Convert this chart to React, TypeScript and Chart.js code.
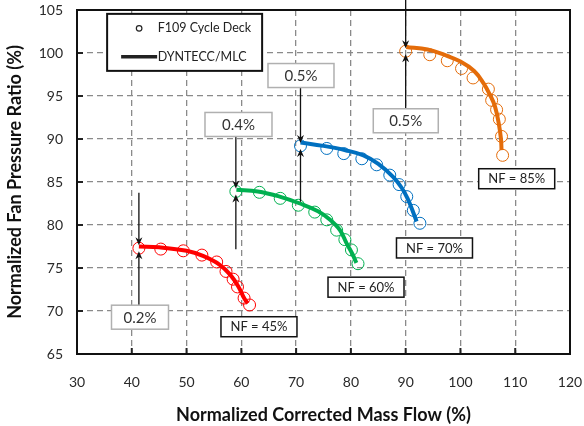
import React, { useEffect, useRef } from "react";
import { Chart, registerables } from "chart.js";

Chart.register(...registerables);

// Axis ranges and tick steps
const xTicks = [30, 40, 50, 60, 70, 80, 90, 100, 110, 120];
const yTicks = [65, 70, 75, 80, 85, 90, 95, 100, 105];

// F109 cycle deck points (circles)
const deck45X = [41.3, 45.3, 49.4, 52.8, 55.5, 57.2, 58.5, 59.3, 60.5, 61.5];
const deck45Y = [77.3, 77.2, 77.0, 76.5, 75.7, 74.6, 73.7, 72.8, 71.5, 70.7];
const deck60X = [59.0, 63.3, 67.1, 70.4, 73.4, 75.6, 77.4, 78.9, 80.1, 81.3];
const deck60Y = [83.9, 83.8, 83.1, 82.3, 81.5, 80.6, 79.4, 78.3, 77.1, 75.5];
const deck70X = [70.8, 75.6, 78.7, 82.0, 84.7, 87.1, 88.8, 90.2, 91.4, 92.6];
const deck70Y = [89.2, 88.9, 88.3, 87.7, 87.0, 85.8, 84.7, 83.3, 81.7, 80.2];
const deck85X = [90.0, 94.4, 97.6, 100.2, 102.3, 105.1, 105.7, 106.6, 107.1, 107.5, 107.7];
const deck85Y = [100.2, 99.8, 99.1, 98.2, 97.1, 95.8, 94.5, 93.4, 92.3, 90.3, 88.1];

// DYNTECC/MLC characteristics (thick lines)
const mlc45X = [41.3, 45.0, 50.0, 53.0, 56.0, 58.0, 59.5, 60.5, 61.2];
const mlc45Y = [77.5, 77.4, 77.0, 76.4, 75.4, 74.2, 72.8, 71.5, 70.9];
const mlc60X = [59.1, 63.0, 67.0, 70.7, 74.0, 76.2, 78.0, 79.2, 80.3, 81.0];
const mlc60Y = [84.1, 83.9, 83.3, 82.5, 81.6, 80.6, 79.4, 77.9, 76.6, 75.6];
const mlc70X = [70.8, 75.0, 79.0, 82.3, 85.0, 87.7, 89.3, 90.4, 91.3, 92.0];
const mlc70Y = [89.6, 89.2, 88.7, 88.1, 87.1, 85.6, 84.3, 83.0, 81.6, 80.4];
const mlc85X = [90.1, 94.0, 97.0, 100.0, 102.5, 104.2, 105.5, 106.3, 107.0, 107.4, 107.5];
const mlc85Y = [100.7, 100.4, 99.8, 99.0, 97.9, 96.5, 95.0, 93.8, 91.8, 90.0, 88.7];

const speedLabels = ["NF = 45%", "NF = 60%", "NF = 70%", "NF = 85%"];
const speedColors = ["#ff0000", "#00b050", "#0070c0", "#e46c0a"];

// Difference callouts at the stall point of each speed line
const diffLabels = ["0.2%", "0.4%", "0.5%", "0.5%"];
const arrowUpperFromY = [83.76, 90.35, 95.93, 106.2];
const arrowLowerFromY = [70.58, 77.17, 82.71, 93.57];

// Callout placement (data units for centres, pixels for sizes)
const diffBoxX = [41.5, 59.48, 70.89, 90.02];
const diffBoxY = [69.28, 91.69, 97.38, 92.12];
const diffBoxW = [57, 67, 66, 65];
const nfBoxX = [63.22, 82.76, 95.26, 110.27];
const nfBoxY = [68.17, 72.77, 77.33, 85.38];

const toPts = (xs: number[], ys: number[]) => xs.map((x, i) => ({ x, y: ys[i] }));

const FONT = "Lato, 'Open Sans', sans-serif";

const decorPlugin = {
  id: "decor",
  beforeDatasetsDraw(chart: any) {
    const { ctx, chartArea: a, scales } = chart;
    ctx.save();
    // inward tick marks
    ctx.strokeStyle = "#222";
    ctx.lineWidth = 2;
    ctx.beginPath();
    xTicks.slice(1, -1).forEach((v) => {
      const px = scales.x.getPixelForValue(v);
      ctx.moveTo(px, a.bottom);
      ctx.lineTo(px, a.bottom - 6);
    });
    yTicks.slice(1, -1).forEach((v) => {
      const py = scales.y.getPixelForValue(v);
      ctx.moveTo(a.left, py);
      ctx.lineTo(a.left + 6, py);
    });
    ctx.stroke();
    // plot frame
    ctx.strokeStyle = "#111";
    ctx.lineWidth = 2;
    ctx.strokeRect(a.left, a.top, a.right - a.left, a.bottom - a.top);
    ctx.restore();
  },
  afterDraw(chart: any) {
    const { ctx, scales } = chart;
    const sx = scales.x;
    const sy = scales.y;
    const firstX = [deck45X[0], deck60X[0], deck70X[0], deck85X[0]];
    const firstY = [deck45Y[0], deck60Y[0], deck70Y[0], deck85Y[0]];
    ctx.save();

    const arrowHead = (x: number, tipY: number, dir: number) => {
      ctx.beginPath();
      ctx.moveTo(x, tipY);
      ctx.lineTo(x - 3.5, tipY - dir * 8);
      ctx.lineTo(x, tipY - dir * 5.5);
      ctx.lineTo(x + 3.5, tipY - dir * 8);
      ctx.closePath();
      ctx.fill();
    };

    // arrows
    ctx.strokeStyle = "#111";
    ctx.fillStyle = "#111";
    ctx.lineWidth = 1.3;
    firstX.forEach((xv, i) => {
      const px = sx.getPixelForValue(xv);
      const py = sy.getPixelForValue(firstY[i]);
      const upFrom = sy.getPixelForValue(arrowUpperFromY[i]);
      const loFrom = sy.getPixelForValue(arrowLowerFromY[i]);
      ctx.beginPath();
      ctx.moveTo(px, Math.max(upFrom, 0));
      ctx.lineTo(px, py - 6);
      ctx.moveTo(px, loFrom);
      ctx.lineTo(px, py + 6);
      ctx.stroke();
      arrowHead(px, py - 3, 1);
      arrowHead(px, py + 3, -1);
    });

    // difference callouts
    ctx.textAlign = "center";
    ctx.textBaseline = "middle";
    diffLabels.forEach((t, i) => {
      const cx = sx.getPixelForValue(diffBoxX[i]);
      const cy = sy.getPixelForValue(diffBoxY[i]);
      const w = diffBoxW[i];
      const h = 24;
      ctx.fillStyle = "#fff";
      ctx.fillRect(cx - w / 2, cy - h / 2, w, h);
      ctx.strokeStyle = "#b0b0b0";
      ctx.lineWidth = 1.5;
      ctx.strokeRect(cx - w / 2, cy - h / 2, w, h);
      ctx.fillStyle = "#333";
      ctx.font = `15px ${FONT}`;
      ctx.fillText(t, cx, cy + 0.5);
    });

    // speed labels
    speedLabels.forEach((t, i) => {
      const cx = sx.getPixelForValue(nfBoxX[i]);
      const cy = sy.getPixelForValue(nfBoxY[i]);
      const w = 76;
      const h = 20;
      ctx.fillStyle = "#fff";
      ctx.fillRect(cx - w / 2, cy - h / 2, w, h);
      ctx.strokeStyle = "#111";
      ctx.lineWidth = 1.5;
      ctx.strokeRect(cx - w / 2, cy - h / 2, w, h);
      ctx.fillStyle = "#222";
      ctx.font = `13px ${FONT}`;
      ctx.fillText(t, cx, cy + 0.5);
    });

    // legend
    const lx = sx.getPixelForValue(35.5);
    const ly = sy.getPixelForValue(104.55);
    const lw = 155;
    const lh = 57;
    ctx.fillStyle = "#fff";
    ctx.fillRect(lx, ly, lw, lh);
    ctx.strokeStyle = "#111";
    ctx.lineWidth = 2;
    ctx.strokeRect(lx, ly, lw, lh);
    ctx.lineWidth = 1.2;
    ctx.strokeStyle = "#222";
    ctx.beginPath();
    ctx.arc(lx + 32, ly + 14.5, 2.8, 0, Math.PI * 2);
    ctx.stroke();
    ctx.lineWidth = 3.5;
    ctx.beginPath();
    ctx.moveTo(lx + 14, ly + 43);
    ctx.lineTo(lx + 50, ly + 43);
    ctx.stroke();
    ctx.fillStyle = "#222";
    ctx.textAlign = "left";
    ctx.font = `12.5px ${FONT}`;
    ctx.fillText("F109 Cycle Deck", lx + 50.5, ly + 14.5);
    ctx.fillText("DYNTECC/MLC", lx + 50.5, ly + 43);

    ctx.restore();
  },
};

export default function App() {
  const ref = useRef<HTMLCanvasElement | null>(null);

  useEffect(() => {
    if (!ref.current) return;
    const decks = [
      toPts(deck45X, deck45Y),
      toPts(deck60X, deck60Y),
      toPts(deck70X, deck70Y),
      toPts(deck85X, deck85Y),
    ];
    const lines = [
      toPts(mlc45X, mlc45Y),
      toPts(mlc60X, mlc60Y),
      toPts(mlc70X, mlc70Y),
      toPts(mlc85X, mlc85Y),
    ];
    const datasets: any[] = [];
    lines.forEach((d, i) => {
      datasets.push({
        label: `DYNTECC/MLC ${speedLabels[i]}`,
        data: d,
        showLine: true,
        borderColor: speedColors[i],
        borderWidth: 4,
        tension: 0.4,
        pointRadius: 0,
        order: 0,
      });
    });
    decks.forEach((d, i) => {
      datasets.push({
        label: `F109 Cycle Deck ${speedLabels[i]}`,
        data: d,
        showLine: false,
        pointStyle: "circle",
        pointRadius: 6,
        pointBorderWidth: 1,
        borderColor: speedColors[i],
        backgroundColor: "rgba(0,0,0,0)",
        order: 1,
      });
    });

    const chart = new Chart(ref.current, {
      type: "scatter",
      data: { datasets },
      options: {
        animation: false,
        responsive: false,
        layout: { padding: { top: 10, right: 14, left: 0, bottom: 0 } },
        plugins: { legend: { display: false }, tooltip: { enabled: false } },
        scales: {
          x: {
            type: "linear",
            min: 30,
            max: 120,
            afterBuildTicks: (s: any) => {
              s.ticks = xTicks.map((v) => ({ value: v }));
            },
            afterFit: (s: any) => {
              s.height = 72;
              s.paddingLeft = 0;
              s.paddingRight = 0;
            },
            grid: {
              color: (c: any) =>
                c.tick && (c.tick.value === 30 || c.tick.value === 120) ? "rgba(0,0,0,0)" : "#8a8a8a",
              lineWidth: 1.3,
              drawTicks: false,
            },
            border: { display: false, dash: [6, 4] },
            ticks: {
              padding: 20,
              color: "#2a2a2a",
              font: { family: FONT, size: 14 },
            },
            title: {
              display: true,
              text: "Normalized Corrected Mass Flow (%)",
              color: "#111",
              font: { family: FONT, size: 18, weight: "bold" },
              padding: { top: 0, bottom: 0.2 },
            },
          },
          y: {
            type: "linear",
            min: 65,
            max: 105,
            afterBuildTicks: (s: any) => {
              s.ticks = yTicks.map((v) => ({ value: v }));
            },
            afterFit: (s: any) => {
              s.width = 77;
              s.paddingTop = 0;
              s.paddingBottom = 0;
            },
            grid: {
              color: (c: any) =>
                c.tick && (c.tick.value === 65 || c.tick.value === 105) ? "rgba(0,0,0,0)" : "#8a8a8a",
              lineWidth: 1.3,
              drawTicks: false,
            },
            border: { display: false, dash: [6, 4] },
            ticks: {
              padding: 14,
              color: "#2a2a2a",
              font: { family: FONT, size: 14 },
            },
            title: {
              display: true,
              text: "Normalized Fan Pressure Ratio (%)",
              color: "#111",
              font: { family: FONT, size: 18, weight: "bold" },
              padding: { top: 4.2, bottom: 0 },
            },
          },
        },
      },
      plugins: [decorPlugin],
    });
    return () => chart.destroy();
  }, []);

  return (
    <div style={{ position: "absolute", left: 0, top: 0, width: 584, height: 426, background: "#fff" }}>
      <canvas ref={ref} width={584} height={426} style={{ display: "block" }} />
    </div>
  );
}
